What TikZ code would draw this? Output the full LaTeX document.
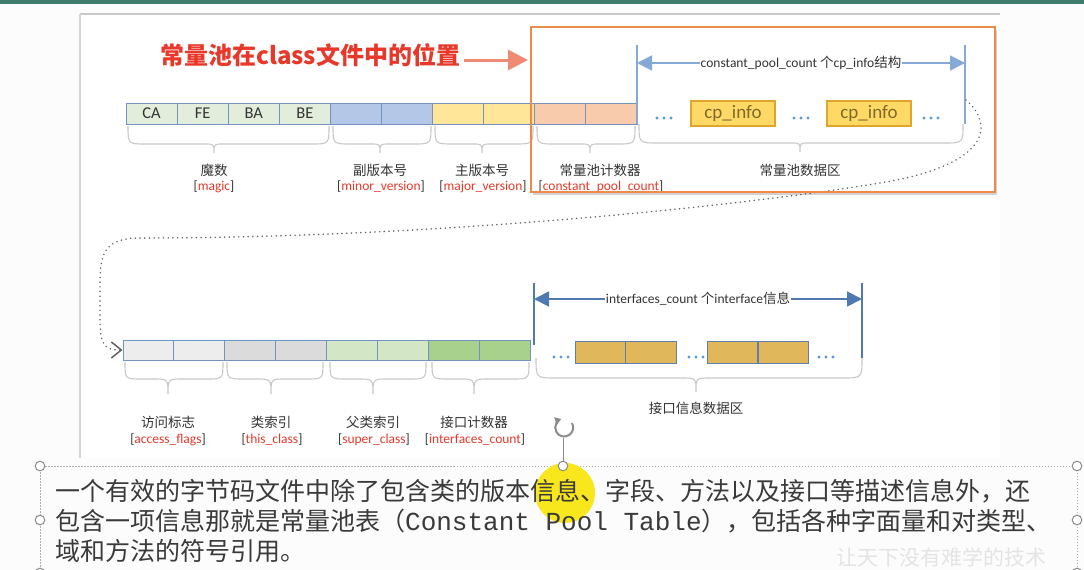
\documentclass[tikz,border=0pt]{standalone}
\usepackage{fontspec}
\setmainfont{Carlito}
\newfontfamily\cjk{Noto Sans CJK SC}
\newfontfamily\mono{Liberation Mono}
\usetikzlibrary{arrows.meta,shadows}
\definecolor{bgc}{HTML}{FCFCFC}
\definecolor{topband}{HTML}{3E7D6E}
\definecolor{cellb}{HTML}{7393C0}
\definecolor{magicf}{HTML}{E2EDDB}
\definecolor{minorf}{HTML}{B4C7E7}
\definecolor{majorf}{HTML}{FFE699}
\definecolor{cpcf}{HTML}{F8CBAD}
\definecolor{accf}{HTML}{EDEDED}
\definecolor{thisf}{HTML}{DBDBDB}
\definecolor{superf}{HTML}{D3E6C5}
\definecolor{intcf}{HTML}{A9D18E}
\definecolor{intf}{HTML}{E1B75C}
\definecolor{intb}{HTML}{5E80AC}
\definecolor{cpf}{HTML}{FFD966}
\definecolor{cpb}{HTML}{E0A52A}
\definecolor{cpt}{HTML}{7F6A2A}
\definecolor{txt}{HTML}{333333}
\definecolor{redl}{HTML}{E53A2B}
\definecolor{titler}{HTML}{E8382A}
\definecolor{tarrow}{HTML}{F08A72}
\definecolor{orangeb}{HTML}{EE8A4A}
\definecolor{brcg}{HTML}{C9C9C9}
\definecolor{arrt}{HTML}{86A9D8}
\definecolor{arrb}{HTML}{4E7AB0}
\definecolor{dotb}{HTML}{5B9BD5}
\definecolor{dotc}{HTML}{606060}
\definecolor{handleg}{HTML}{8C8C8C}
\definecolor{yellowc}{HTML}{F8E71C}
\definecolor{bodyt}{HTML}{3A3A3A}
\newcommand\mybrace[6]{\draw[brc] ({#1},{#4}) .. controls ({#1},{#4+#5}) .. ({#1+#5},{#4+#5}) -- ({#3-#6},{#4+#5}) .. controls ({#3},{#4+#5}) .. ({#3},{#4+#5+#6}) .. controls ({#3},{#4+#5}) .. ({#3+#6},{#4+#5}) -- ({#2-#5},{#4+#5}) .. controls ({#2},{#4+#5}) .. ({#2},{#4});}
\newcommand\redlab[1]{[\textcolor{redl}{#1}]}
\begin{document}
\begin{tikzpicture}[x=1pt,y=-1pt,
  cell/.style={draw=cellb, line width=0.9pt, minimum width=51.1pt, minimum height=21pt, inner sep=0pt, font=\fontsize{16.5}{19}\selectfont, text=txt},
  cell2/.style={cell, minimum width=50.9pt, minimum height=20pt},
  ibox/.style={draw=intb, line width=0.9pt, fill=intf, minimum width=50.5pt, minimum height=22pt, inner sep=0pt},
  cpbox/.style={draw=cpb, line width=1.8pt, fill=cpf, minimum width=84pt, minimum height=25pt, inner sep=0pt, text=cpt, font=\fontsize{19}{22}\selectfont},
  brc/.style={draw=brcg, line width=1.1pt},
  zh/.style={font=\cjk\fontsize{13.5}{16}\selectfont, text=txt, inner sep=0pt},
  en/.style={font=\fontsize{13.5}{16}\selectfont, text=txt, inner sep=0pt},
  vline/.style={line width=1.8pt},
  dblt/.style={draw=arrt, line width=1.8pt, {Triangle[length=15pt,width=15pt]}-{Triangle[length=15pt,width=15pt]}},
  dblb/.style={draw=arrb, line width=1.8pt, {Triangle[length=15pt,width=15pt]}-{Triangle[length=15pt,width=15pt]}},
  alabel/.style={fill=white, inner sep=1pt, font=\fontsize{13.5}{16}\selectfont, text=txt},
  dotconn/.style={draw=dotc, line width=1.6pt, line cap=round, dash pattern=on 0.1pt off 4.6pt, -{Straight Barb[length=10pt,width=16pt,line width=1.5pt]}},
  handle/.style={draw=handleg, line width=1pt, fill=white},
  body/.style={anchor=base west, inner sep=0pt, text=bodyt, font=\cjk\fontsize{25}{30}\selectfont}
]
\useasboundingbox (0,0) rectangle (1084,570);
\clip (0,0) rectangle (1084,570);
\fill[bgc] (0,0) rectangle (1084,570);
\fill[topband] (0,0) rectangle (1084,4);
% image panel
\fill[white] (80,14) rectangle (1000,458);
\draw[draw={rgb,255:red,200;green,200;blue,200}, line width=2.5pt] (80,14) -- (1000,14);
\draw[draw={rgb,255:red,214;green,214;blue,214}, line width=2pt] (80,14) -- (80,458);
% orange box background with shadow
\fill[white, drop shadow={opacity=0.35, shadow xshift=2pt, shadow yshift=-3pt}] (531,27) rectangle (995,192);
% title
\node[font=\cjk\bfseries\fontsize{24}{28}\selectfont, text=titler, inner sep=0pt, anchor=west] (title) at (160,55) {常量池在class文件中的位置};
\coordinate (tgt) at (528,60);
\draw[draw=tarrow, line width=3pt, -{Triangle[length=20pt,width=20pt]}] (title.east |- tgt) ++(4,0) -- (tgt);
% row 1 cells
\node[cell, fill=magicf] (a1) at (151.55,113.5) {CA};
\node[cell, fill=magicf] (a2) at (202.65,113.5) {FE};
\node[cell, fill=magicf] (a3) at (253.75,113.5) {BA};
\node[cell, fill=magicf] (a4) at (304.85,113.5) {BE};
\node[cell, fill=minorf] (a5) at (355.95,113.5) {};
\node[cell, fill=minorf] (a6) at (407.05,113.5) {};
\node[cell, fill=majorf] (a7) at (458.15,113.5) {};
\node[cell, fill=majorf] (a8) at (509.25,113.5) {};
\node[cell, fill=cpcf] (a9) at (560.35,113.5) {};
\node[cell, fill=cpcf] (a10) at (611.45,113.5) {};
% row 1 braces and labels
\mybrace{128}{329}{214}{126}{18}{9}
\mybrace{333}{431}{380}{126}{18}{9}
\mybrace{435}{533}{482}{126}{18}{9}
\mybrace{537}{635}{590}{126}{18}{9}
\mybrace{639}{963}{800}{124}{19}{9}
\node[zh] (l1) at (214,170) {魔数};
\node[en] (r1) at (214,187) {\redlab{magic}};
\node[zh] (l2) at (380,170) {副版本号};
\node[en] (r2) at (381,187) {\redlab{minor\_version}};
\node[zh] (l3) at (482,170) {主版本号};
\node[en] (r3) at (483,187) {\redlab{major\_version}};
\node[zh] (l4) at (600,170) {常量池计数器};
\node[en] (r4) at (601,187) {\redlab{constant\_pool\_count}};
\node[zh] (l5) at (800,170) {常量池数据区};
% constant pool data area
\coordinate (tl1) at (637,45); \coordinate (tl2) at (637,124);
\coordinate (tr1) at (965,45); \coordinate (tr2) at (965,124);
\draw[draw=arrt, vline] (tl1) -- (tl2);
\draw[draw=arrt, vline] (tr1) -- (tr2);
\coordinate (ta) at (637,63); \coordinate (tb) at (965,63);
\draw[dblt] (ta) -- (tb) node[midway, alabel] (lab1) {constant\_pool\_count {\cjk 个}cp\_info{\cjk 结构}};
\node[cpbox] (cp1) at (733,113.5) {cp\_info};
\node[cpbox] (cp2) at (869,113.5) {cp\_info};
\foreach \x in {664,801,931} {\foreach \d in {-7,0,7} \fill[dotb] (\x+\d,118) circle[radius=1.7];}
% dotted connector
\coordinate (dstart) at (966,100);
% row 2 cells
\node[cell2, fill=accf] (b1) at (148.45,350) {};
\node[cell2, fill=accf] (b2) at (199.35,350) {};
\node[cell2, fill=thisf] (b3) at (250.25,350) {};
\node[cell2, fill=thisf] (b4) at (301.15,350) {};
\node[cell2, fill=superf] (b5) at (352.05,350) {};
\node[cell2, fill=superf] (b6) at (402.95,350) {};
\node[cell2, fill=intcf] (b7) at (453.85,350) {};
\node[cell2, fill=intcf] (b8) at (504.75,350) {};
\draw[dotconn] (dstart) .. controls (995,125) and (990,165) .. (880,183) .. controls (720,209) and (420,238) .. (140,238) .. controls (103,238) and (100,255) .. (100,285) -- (100,318) .. controls (100,345) and (104,350) .. (b1.west);
% row 2 braces and labels
\mybrace{125}{223}{168}{362}{17}{15}
\mybrace{227}{323}{271}{362}{17}{15}
\mybrace{330}{426}{373}{362}{17}{15}
\mybrace{432}{529}{474}{362}{17}{15}
\mybrace{536}{862}{696}{358}{20}{14}
\node[zh] (m1) at (168,422) {访问标志};
\node[en] (s1) at (168,440) {\redlab{access\_flags}};
\node[zh] (m2) at (271,422) {类索引};
\node[en] (s2) at (272,440) {\redlab{this\_class}};
\node[zh] (m3) at (373,422) {父类索引};
\node[en] (s3) at (374,440) {\redlab{super\_class}};
\node[zh] (m4) at (474,422) {接口计数器};
\node[en] (s4) at (475,440) {\redlab{interfaces\_count}};
\node[zh] (m5) at (696,408) {接口信息数据区};
% interface data area
\coordinate (bl1) at (534,283); \coordinate (bl2) at (534,345);
\coordinate (br1) at (862,283); \coordinate (br2) at (862,358);
\draw[draw=arrb, vline] (bl1) -- (bl2);
\draw[draw=arrb, vline] (br1) -- (br2);
\coordinate (ba) at (534,299); \coordinate (bb) at (862,299);
\draw[dblb] (ba) -- (bb) node[midway, alabel] (lab2) {interfaces\_count {\cjk 个}interface{\cjk 信息}};
\node[ibox] (i1) at (600.25,352) {};
\node[ibox] (i2) at (650.75,352) {};
\node[ibox] (i3) at (732.5,352) {};
\node[ibox] (i4) at (783.5,352) {};
\foreach \x in {561,696,826} {\foreach \d in {-7,0,7} \fill[dotb] (\x+\d,357) circle[radius=1.7];}
% orange frame on top
\draw[draw=orangeb, line width=2.6pt] (531,27) rectangle (995,192);
% text box frame and handles
\draw[draw=handleg!70, line width=0.7pt, dash pattern=on 1.5pt off 1.5pt] (40,466) rectangle (1077,580);
\draw[draw=handleg, line width=2pt, -{Triangle[length=6pt,width=8pt]}] (572,423) arc[start angle=-30, end angle=250, radius=9];
\coordinate (rot) at (563,438);
\coordinate (top) at (563,462);
\draw[draw=handleg, line width=1pt] (rot) -- (top);
\fill[yellowc] (565,493) circle[radius=30];
\foreach \p in {(40,466),(563,466),(1077,466),(40,520),(1077,520),(40,573),(1077,573)} \draw[handle] \p circle[radius=4.8];
% body text
\node[body] (t1) at (55,500) {一个有效的字节码文件中除了包含类的版本信息、字段、方法以及接口等描述信息外，还};
\node[body] (t2) at (55,530) {包含一项信息那就是常量池表（{\mono\fontsize{26}{30}\selectfont Constant Pool Table}），包括各种字面量和对类型、};
\node[body] (t3) at (55,560) {域和方法的符号引用。};
\node[anchor=base west, inner sep=0pt, text={rgb,255:red,228;green,228;blue,228}, font=\cjk\fontsize{21}{24}\selectfont] (wm) at (836,565) {让天下没有难学的技术};
\end{tikzpicture}
\end{document}
